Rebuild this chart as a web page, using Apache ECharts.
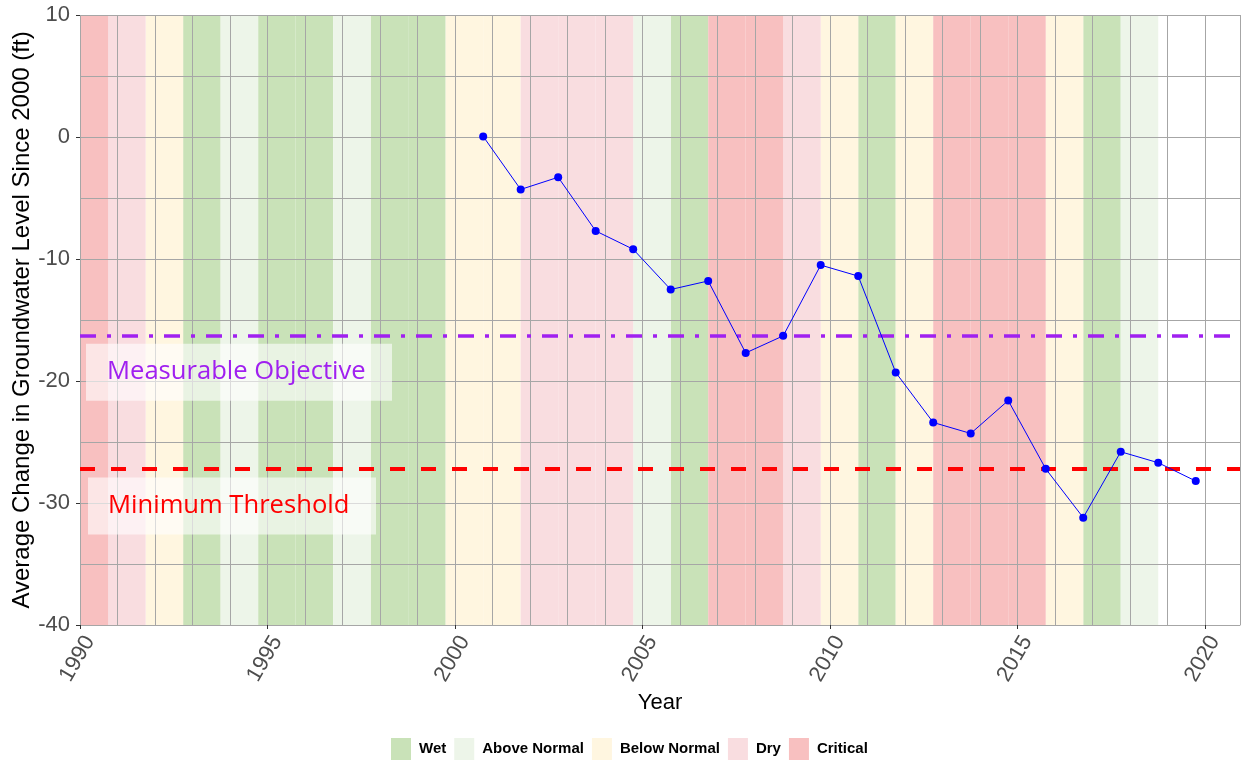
<!DOCTYPE html>
<html>
<head>
<meta charset="utf-8">
<script src="https://cdn.jsdelivr.net/npm/echarts@6/dist/echarts.min.js"></script>
<style>
html,body{margin:0;padding:0;background:#fff;}
#chart{width:1241px;height:766px;}
</style>
</head>
<body>
<div id="chart"></div>
<script>
// ---- Data ----
const measureDates = [2000.75, 2001.75, 2002.75, 2003.75, 2004.75, 2005.75, 2006.75, 2007.75, 2008.75, 2009.75,
                      2010.75, 2011.75, 2012.75, 2013.75, 2014.75, 2015.75, 2016.75, 2017.75, 2018.75, 2019.75];
const levelChange = [0.05, -4.3, -3.3, -7.7, -9.2, -12.5, -11.8, -17.7, -16.3, -10.5,
                     -11.4, -19.3, -23.4, -24.3, -21.6, -27.2, -31.2, -25.8, -26.7, -28.2];
const waterYears = [1990, 1991, 1992, 1993, 1994, 1995, 1996, 1997, 1998, 1999,
                    2000, 2001, 2002, 2003, 2004, 2005, 2006, 2007, 2008, 2009,
                    2010, 2011, 2012, 2013, 2014, 2015, 2016, 2017, 2018];
const yearTypes = ['Critical', 'Dry', 'Below Normal', 'Wet', 'Above Normal', 'Wet', 'Wet', 'Above Normal', 'Wet', 'Wet',
                   'Below Normal', 'Below Normal', 'Dry', 'Dry', 'Dry', 'Above Normal', 'Wet', 'Critical', 'Critical', 'Dry',
                   'Below Normal', 'Wet', 'Below Normal', 'Critical', 'Critical', 'Critical', 'Below Normal', 'Wet', 'Above Normal'];
const typeNames = ['Wet', 'Above Normal', 'Below Normal', 'Dry', 'Critical'];
const typeColors = ['#C9E2B8', '#EDF5E9', '#FFF6E0', '#F9DDE0', '#F8C0C0'];
const measurableObjective = -16.25;
const minimumThreshold = -27.2;
const xTickLabels = ['1990', '1995', '2000', '2005', '2010', '2015', '2020'];
const yTickLabels = ['-40', '-30', '-20', '-10', '0', '10'];

const X_MIN = 1990, X_MAX = 2020.93, Y_MIN = -40, Y_MAX = 10;
const axisGray = '#4D4D4D';
const gridGray = '#A6A6A6';
const FONT = 'Liberation Sans, Arial, sans-serif';

// Band series (one per water-year type), built from the arrays above
const bandSeries = typeNames.map((name, ti) => {
  const areas = [];
  waterYears.forEach((wy, i) => {
    if (yearTypes[i] === name) {
      areas.push([{ xAxis: Math.max(X_MIN, wy - 0.25) }, { xAxis: wy + 0.75 }]);
    }
  });
  return {
    name: name,
    type: 'line',
    data: [],
    color: typeColors[ti],
    itemStyle: { color: typeColors[ti] },
    z: 1,
    silent: true,
    markArea: {
      silent: true,
      itemStyle: { color: typeColors[ti], opacity: 1 },
      data: areas
    }
  };
});

const chart = echarts.init(document.getElementById('chart'), null, { renderer: 'canvas' });

const option = {
  animation: false,
  backgroundColor: '#ffffff',
  grid: { left: 80, right: 1, top: 15, bottom: 141, containLabel: false, outerBoundsMode: 'none' },
  legend: {
    top: 738,
    left: 391,
    padding: 0,
    itemWidth: 20,
    itemHeight: 22,
    itemGap: 8,
    icon: 'rect',
    data: typeNames,
    textStyle: { fontFamily: FONT, fontSize: 15, fontWeight: 'bold', color: '#000', padding: [0, 0, 0, 3] },
    selectedMode: false
  },
  xAxis: [
    {
      type: 'value', min: X_MIN, max: X_MAX, interval: 1, z: 3,
      axisLine: { show: false, onZero: false }, axisTick: { show: false }, axisLabel: { show: false },
      splitLine: { show: true, lineStyle: { color: gridGray, width: 1 } }
    },
    {
      type: 'value', min: X_MIN, max: X_MAX, interval: 5, position: 'bottom', z: 3,
      name: 'Year', nameLocation: 'middle', nameGap: 67, nameMoveOverlap: false,
      nameTextStyle: { fontFamily: FONT, fontSize: 22, color: '#000' },
      axisLine: { show: true, onZero: false, lineStyle: { color: gridGray, width: 1 } },
      axisTick: { show: true, length: 4, lineStyle: { color: '#333' } },
      axisLabel: {
        show: true, rotate: 60, margin: 7, verticalAlign: 'top', align: 'right',
        fontFamily: FONT, fontSize: 22, color: axisGray,
        showMaxLabel: false,
        formatter: v => (xTickLabels.indexOf(String(Math.round(v))) >= 0 && Math.abs(v - Math.round(v)) < 1e-6) ? String(Math.round(v)) : ''
      },
      splitLine: { show: false }
    }
  ],
  yAxis: [
    {
      type: 'value', min: Y_MIN, max: Y_MAX, interval: 5, z: 3,
      axisLine: { show: false, onZero: false }, axisTick: { show: false }, axisLabel: { show: false },
      splitLine: { show: true, lineStyle: { color: gridGray, width: 1 } }
    },
    {
      type: 'value', min: Y_MIN, max: Y_MAX, interval: 10, position: 'left', z: 3,
      name: 'Average Change in Groundwater Level Since 2000 (ft)',
      nameLocation: 'middle', nameGap: 46, nameRotate: 90, nameMoveOverlap: false,
      nameTextStyle: { fontFamily: FONT, fontSize: 24, color: '#000' },
      axisLine: { show: false, onZero: false },
      axisTick: { show: true, length: 4, lineStyle: { color: '#333' } },
      axisLabel: {
        show: true, margin: 10,
        fontFamily: FONT, fontSize: 22, color: axisGray,
        formatter: v => yTickLabels.indexOf(String(v)) >= 0 ? String(v) : ''
      },
      splitLine: { show: false }
    }
  ],
  series: bandSeries.concat([
    {
      name: 'thresholds', type: 'line', data: [], z: 4, silent: true,
      markLine: {
        symbol: 'none', silent: true, label: { show: false },
        data: [
          { yAxis: measurableObjective, lineStyle: { color: '#A020F0', width: 3.5, type: [16, 11, 4, 11] } },
          { yAxis: minimumThreshold, lineStyle: { color: '#FF0000', width: 4, type: [15, 16] } }
        ]
      }
    },
    {
      name: 'level', type: 'line', z: 5,
      data: measureDates.map((d, i) => [d, levelChange[i]]),
      symbol: 'circle', symbolSize: 8,
      itemStyle: { color: '#0000FF' },
      lineStyle: { color: '#0000FF', width: 1 }
    }
  ])
};
chart.setOption(option);

// Annotation labels placed three feet below each line
function addLabels() {
  const moY = chart.convertToPixel({ yAxisIndex: 0 }, measurableObjective - 3);
  const mtY = chart.convertToPixel({ yAxisIndex: 0 }, minimumThreshold - 3);
  const x0 = chart.convertToPixel({ xAxisIndex: 0 }, 1990.16);
  chart.setOption({
    graphic: [
      { type: 'rect', shape: { x: x0, y: moY - 28, width: 306, height: 57 }, style: { fill: 'rgba(255,255,255,0.6)' }, z: 6 },
      { type: 'text', x: x0 + 21, y: moY, style: { text: 'Measurable Objective', fill: '#A020F0', font: '25.6px "Open Sans", sans-serif', verticalAlign: 'middle' }, z: 7 },
      { type: 'rect', shape: { x: x0 + 2, y: mtY - 28, width: 288, height: 57 }, style: { fill: 'rgba(255,255,255,0.6)' }, z: 6 },
      { type: 'text', x: x0 + 22, y: mtY, style: { text: 'Minimum Threshold', fill: '#FF0000', font: '25.6px "Open Sans", sans-serif', verticalAlign: 'middle' }, z: 7 }
    ]
  });
}
addLabels();
</script>
</body>
</html>
